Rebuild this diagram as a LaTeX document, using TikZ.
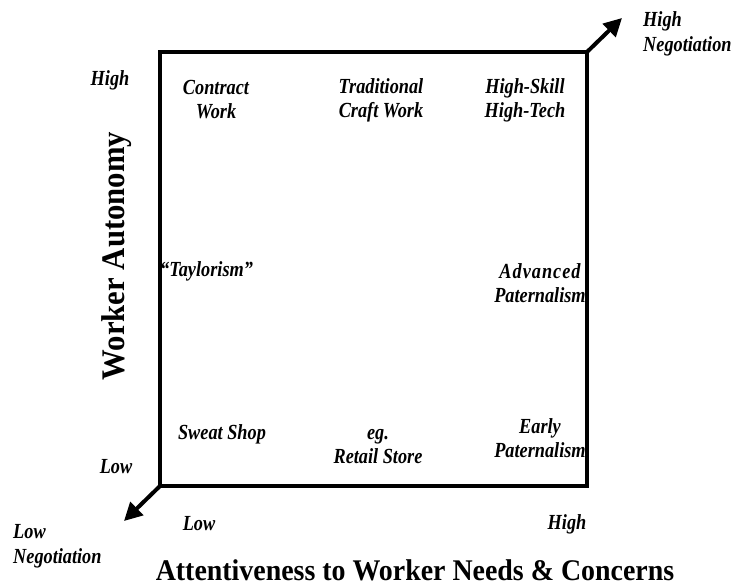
\documentclass[tikz,border=0pt]{standalone}
\usepackage{fontspec}
\setmainfont{Liberation Serif}
\newfontfamily\lblfont[FakeStretch=0.85]{Liberation Serif}
\newfontfamily\ttlfont[FakeStretch=0.93]{Liberation Serif}
\usetikzlibrary{arrows.meta}
\tikzset{
  lbl/.style={font=\lblfont\fontsize{21.5}{24}\selectfont\bfseries\itshape, align=center, inner sep=0pt},
  lbll/.style={font=\lblfont\fontsize{21.5}{25}\selectfont\bfseries\itshape, align=left, inner sep=0pt, anchor=west},
  axtitle/.style={font=\ttlfont\fontsize{30}{34}\selectfont\bfseries, inner sep=0pt, anchor=base},
  frame/.style={line width=3.6pt},
  negarrow/.style={line width=4pt, -{Triangle[width=18pt,length=18pt]}}
}
\begin{document}
\begin{tikzpicture}[x=1pt,y=-1pt]
\useasboundingbox (0,0) rectangle (736,586);
\coordinate (tl) at (160,52);
\coordinate (br) at (587,486);
\coordinate (tr) at (587,52);
\coordinate (bl) at (160,486);
\coordinate (hiTip) at (622,18);
\coordinate (loTip) at (124,521);
\draw[frame] (tl) rectangle (br);
\draw[negarrow] (tr) -- (hiTip);
\draw[negarrow] (bl) -- (loTip);

\node[lbll] (hineg) at (643,34) {High\\Negotiation};
\node[lbll] (loneg) at (13,546) {Low\\Negotiation};

\node[lbl] (yhigh) at (110,80) {High};
\node[lbl] (ylow) at (116,467) {Low};
\node[lbl] (xlow) at (199,524) {Low};
\node[lbl] (xhigh) at (567,524) {High};

\node[lbl] (contract) at (216,100) {Contract\\Work};
\node[lbl] (craft) at (381,100) {Traditional\\Craft Work};
\node[lbl] (hitech) at (525,100) {High-Skill\\High-Tech};
\node[lbl, anchor=west] (taylor) at (160,271) {“Taylorism”};
\node[lbl] (advpat) at (540,283) {A\kern1pt d\kern1pt v\kern1pt a\kern1pt n\kern1pt c\kern1pt e\kern1pt d\\Paternalism};
\node[lbl] (sweat) at (222,434) {Sweat Shop};
\node[lbl] (retail) at (378,447) {eg.\\Retail Store};
\node[lbl] (early) at (540,438) {Early\\Paternalism};

\node[axtitle] (xtitle) at (415,580) {Attentiveness to Worker Needs \& Concerns};
\node[axtitle, font=\ttlfont\fontsize{33}{36}\selectfont\bfseries, rotate=90] (ytitle) at (124,256) {Worker Autonomy};
\end{tikzpicture}
\end{document}
